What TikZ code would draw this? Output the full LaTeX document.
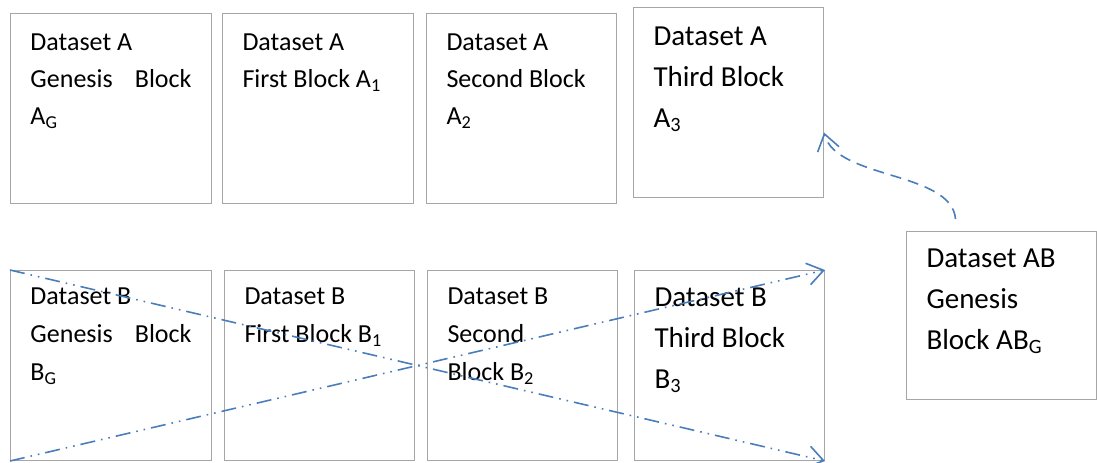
\documentclass[tikz,border=0pt]{standalone}
\usepackage{fontspec}
\setmainfont{Carlito}
\usepackage{xcolor}
\usetikzlibrary{positioning,arrows.meta}
\definecolor{boxgray}{HTML}{A6A6A6}
\definecolor{linkblue}{HTML}{4A7EBB}

\begin{document}
\begin{tikzpicture}[
  node distance=6pt and 6pt,
  blk/.style={draw=boxgray, line width=.5pt, align=flush left, inner xsep=10pt, inner ysep=0pt,
              text width=75pt, text height=18.5pt, text depth=76.5pt,
              font=\fontsize{13}{18.5}\selectfont},
  wide/.style={text width=80.5pt},
  lowtxt/.style={text height=17pt, text depth=78pt, font=\fontsize{13}{19}\selectfont},
  bigtxt/.style={text height=19pt, text depth=76pt, font=\fontsize{14.5}{20.5}\selectfont},
  cross/.style={-{Straight Barb[length=8pt, width=11pt]}, linkblue, line width=.8pt,
                dash pattern=on 7.5pt off 3pt on .8pt off 3pt on .8pt off 3pt},
  link/.style={-{Straight Barb[length=8pt, width=11pt]}, linkblue, line width=.8pt,
               dash pattern=on 5.5pt off 3.5pt}
]
\useasboundingbox (0,0) rectangle (548.5pt,-231pt);
% dataset A chain
\node[blk, wide, anchor=north west] (ag) at (5pt,-6.5pt)
  {Dataset A\\Genesis\hfill Block\\A\textsubscript{G}};
\node[blk, text width=75.5pt, right=5pt of ag] (a1) {Dataset A\\First Block A\textsubscript{1}};
\node[blk, right=of a1] (a2) {Dataset A\\Second Block\\A\textsubscript{2}};
\node[blk, bigtxt, right=8pt of a2, yshift=3pt] (a3) {Dataset A\\Third Block\\A\textsubscript{3}};
% dataset B chain
\node[blk, wide, lowtxt, below=33pt of ag] (bg)
  {Dataset B\\Genesis\hfill Block\\B\textsubscript{G}};
\node[blk, lowtxt, right=of bg] (b1) {Dataset B\\First Block B\textsubscript{1}};
\node[blk, lowtxt, right=of b1] (b2) {Dataset B\\Second\\Block B\textsubscript{2}};
\node[blk, bigtxt, text height=18pt, text depth=77pt, right=8pt of b2] (b3)
  {Dataset B\\Third Block\\B\textsubscript{3}};
% merged chain
\node[blk, bigtxt, text width=75pt, text height=18pt, text depth=66pt,
      below right=-19.5pt and 40.5pt of b3.north east] (ab)
  {Dataset AB\\Genesis\\Block AB\textsubscript{G}};

% crossing links
\draw[cross] (bg.north west) -- (b3.south east);
\draw[cross] (bg.south west) -- (b3.north east);
% merged block points back to A
\draw[link] ([xshift=-23pt, yshift=6pt]ab.north)
  .. controls +(-2pt,24pt) and +(6pt,-23.5pt) .. ([yshift=-15pt]a3.east);
\end{tikzpicture}
\end{document}
